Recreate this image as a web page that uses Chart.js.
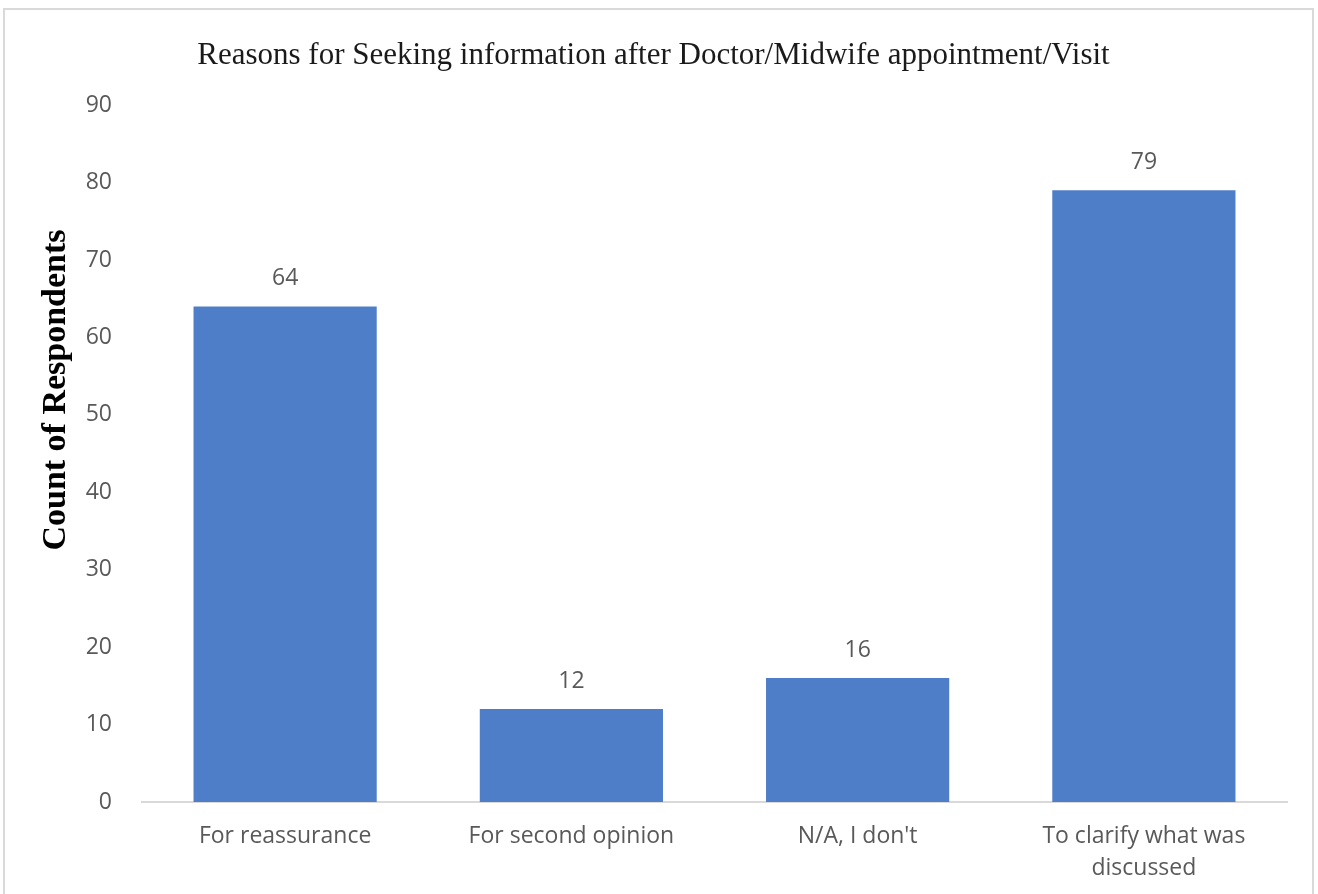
<!DOCTYPE html>
<html>
<head>
<meta charset="utf-8">
<script src="https://cdn.jsdelivr.net/npm/chart.js@4/dist/chart.umd.min.js"></script>
<style>
  html, body { margin: 0; padding: 0; background: #fff; }
  #wrap { width: 1318px; height: 894px; }
</style>
</head>
<body>
<div id="wrap"><canvas id="chart"></canvas></div>
<script>
var categories = ['For reassurance', 'For second opinion', "N/A, I don't", ['To clarify what was', 'discussed']];
var counts = [64, 12, 16, 79];
var yTicks = [0, 10, 20, 30, 40, 50, 60, 70, 80, 90];
var yTitle = 'Count of Respondents';

// value labels over the bars
var barLabels = {
    id: 'barLabels',
    afterDatasetsDraw: function (chart) {
        var ctx = chart.ctx;
        var meta = chart.getDatasetMeta(0);
        ctx.save();
        ctx.font = '23px "Open Sans", sans-serif';
        ctx.fillStyle = '#595959';
        ctx.textAlign = 'center';
        ctx.textBaseline = 'middle';
        meta.data.forEach(function (bar, i) {
            ctx.fillText(String(counts[i]), bar.x, bar.y - 28);
        });
        ctx.restore();
    }
};

// y title sits above the middle of the axis, as in the original
var sideTitle = {
    id: 'sideTitle',
    afterDraw: function (chart) {
        var ctx = chart.ctx;
        ctx.save();
        ctx.translate(56, 390);
        ctx.rotate(-Math.PI / 2);
        ctx.font = 'bold 34px "Liberation Serif", serif';
        ctx.fillStyle = '#000';
        ctx.textAlign = 'center';
        ctx.textBaseline = 'middle';
        ctx.fillText(yTitle, 0, 0);
        ctx.restore();
    }
};

// light grey frame round the chart
var frame = {
    id: 'frame',
    beforeDraw: function (chart) {
        var ctx = chart.ctx;
        ctx.save();
        ctx.strokeStyle = '#d9d9d9';
        ctx.lineWidth = 2;
        ctx.strokeRect(4, 9, chart.width - 9, chart.height + 10);
        ctx.restore();
    }
};

new Chart(document.getElementById('chart'), {
    type: 'bar',
    data: {
        labels: categories,
        datasets: [
            { label: yTitle, data: counts, backgroundColor: '#4F7EC8', barPercentage: 0.64, categoryPercentage: 1 }
        ]
    },
    plugins: [frame, barLabels, sideTitle],
    options: {
        responsive: true,
        maintainAspectRatio: false,
        animation: false,
        layout: { padding: { top: 37, left: 20, right: 31, bottom: 4 } },
        plugins: {
            legend: { display: false },
            tooltip: { enabled: false },
            title: {
                display: true,
                text: 'Reasons for Seeking information after Doctor/Midwife appointment/Visit',
                font: { family: '"Liberation Serif", serif', size: 31, weight: 'normal' },
                color: '#1a1a1a',
                padding: { top: 0, bottom: 31 }
            }
        },
        scales: {
            x: {
                grid: { display: false },
                border: { display: true, color: '#d9d9d9', width: 2 },
                ticks: {
                    color: '#595959',
                    font: { family: '"Open Sans", sans-serif', size: 23, lineHeight: 1.39 },
                    padding: 10,
                    maxRotation: 0
                },
                afterFit: function (scale) { scale.height = 88; }
            },
            y: {
                min: 0,
                max: 90,
                afterBuildTicks: function (scale) {
                    scale.ticks = yTicks.map(function (v) { return { value: v }; });
                },
                grid: { display: false },
                border: { display: false },
                ticks: {
                    color: '#595959',
                    font: { family: '"Open Sans", sans-serif', size: 23 },
                    padding: 22
                },
                afterFit: function (scale) { scale.width = 122; }
            }
        }
    }
});
</script>
</body>
</html>
